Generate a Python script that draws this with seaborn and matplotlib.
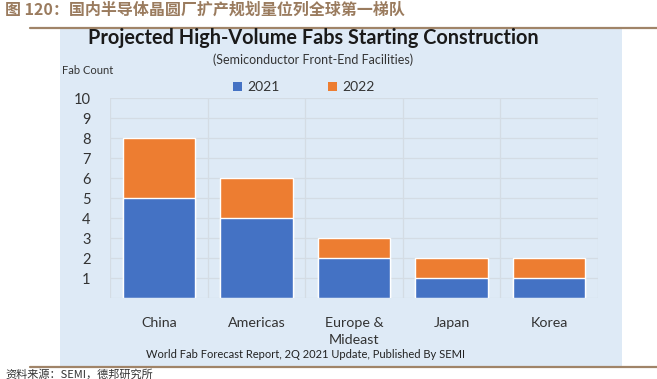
import matplotlib
matplotlib.use("Agg")
import matplotlib.pyplot as plt
from matplotlib.patches import Rectangle, Patch
from matplotlib.lines import Line2D
import pandas as pd
import seaborn as sns

regions = ["China", "Americas", "Europe &\nMideast", "Japan", "Korea"]
fabs_2021 = [5, 4, 2, 1, 1]
fabs_2022 = [3, 2, 1, 1, 1]
y_ticks = [1, 2, 3, 4, 5, 6, 7, 8, 9, 10]

BLUE = "#4472C4"
ORANGE = "#ED7D31"
PANEL = "#DEEAF6"
BROWN = "#A08468"

df = pd.DataFrame({"region": regions, "y2021": fabs_2021, "y2022": fabs_2022})
df["total"] = df["y2021"] + df["y2022"]

sns.set_theme(style="white")
plt.rcParams["font.family"] = ["Lato", "DejaVu Sans"]

W, H = 657, 379
fig = plt.figure(figsize=(W / 100, H / 100), dpi=100)
fig.patch.set_facecolor("white")

def fx(x):
    return x / W

def fy(y):
    return 1 - y / H

# light blue panel behind the chart
fig.patches.append(Rectangle((fx(60), fy(366)), fx(622) - fx(60), fy(29) - fy(366),
                             transform=fig.transFigure, facecolor=PANEL, edgecolor="none", zorder=-5))
# brown rules
fig.add_artist(Line2D([fx(30), 1], [fy(28), fy(28)], transform=fig.transFigure, color=BROWN, lw=1.6))
fig.add_artist(Line2D([fx(30), 1], [fy(367), fy(367)], transform=fig.transFigure, color=BROWN, lw=1.6))

ax = fig.add_axes([fx(110), fy(298), fx(598) - fx(110), fy(98) - fy(298)])
ax.set_zorder(3)
ax.set_facecolor("none")

sns.barplot(data=df, x="region", y="total", color=ORANGE, width=0.74, saturation=1, ax=ax, zorder=3)
sns.barplot(data=df, x="region", y="y2021", color=BLUE, width=0.74, saturation=1, ax=ax, zorder=3)

ax.set_ylim(0, 10)
ax.set_xlim(-0.5, len(regions) - 0.5)
ax.set_yticks(y_ticks)
ax.set_yticklabels([str(t) for t in y_ticks])
ax.set_xlabel("")
ax.set_ylabel("")
for s in ax.spines.values():
    s.set_visible(False)

# grid: horizontal at each unit, vertical at category boundaries
for t in [0] + y_ticks:
    ax.axhline(t, color="#D4DCE4", lw=0.9, zorder=1)
for b in range(len(regions) + 1):
    ax.axvline(b - 0.5, color="#D4DCE4", lw=0.9, zorder=1)

ax.tick_params(axis="y", length=0, pad=14, labelsize=10.5, labelcolor="#333333")
ax.tick_params(axis="x", length=0, pad=14, labelsize=10.3, labelcolor="#333333")
for lab in ax.get_yticklabels():
    lab.set_horizontalalignment("right")
for lab in ax.get_xticklabels():
    lab.set_linespacing(1.45)

# texts
fig.text(fx(313), fy(38), "Projected High-Volume Fabs Starting Construction", ha="center", va="center",
         fontsize=14.3, fontweight="bold", color="#1a1a1a")
fig.text(fx(313), fy(60), "(Semiconductor Front-End Facilities)", ha="center", va="center",
         fontsize=9, color="#333333")
fig.text(fx(62), fy(70), "Fab Count", ha="left", va="center", fontsize=8, color="#333333")
fig.text(fx(306), fy(354), "World Fab Forecast Report, 2Q 2021 Update, Published By SEMI", ha="center",
         va="center", fontsize=8, color="#222222")

handles = [Patch(facecolor=BLUE, edgecolor="none"), Patch(facecolor=ORANGE, edgecolor="none")]
fig.legend(handles, ["2021", "2022"], loc="center", bbox_to_anchor=(fx(304), fy(87)), ncol=2,
           frameon=False, fontsize=10, handlelength=0.6, handleheight=0.6, handletextpad=0.4,
           columnspacing=3.5, labelcolor="#333333")

cjk = ["Noto Sans CJK SC", "DejaVu Sans"]
fig.text(fx(5), fy(10), "图 120：国内半导体晶圆厂扩产规划量位列全球第一梯队", ha="left", va="center",
         fontsize=11.5, fontweight="bold", color="#9A7B5E", family=cjk)
fig.text(fx(5), fy(374), "资料来源：SEMI，德邦研究所", ha="left", va="center",
         fontsize=8, color="#333333", family=cjk)

fig.savefig("out.png", dpi=100, facecolor="white")
